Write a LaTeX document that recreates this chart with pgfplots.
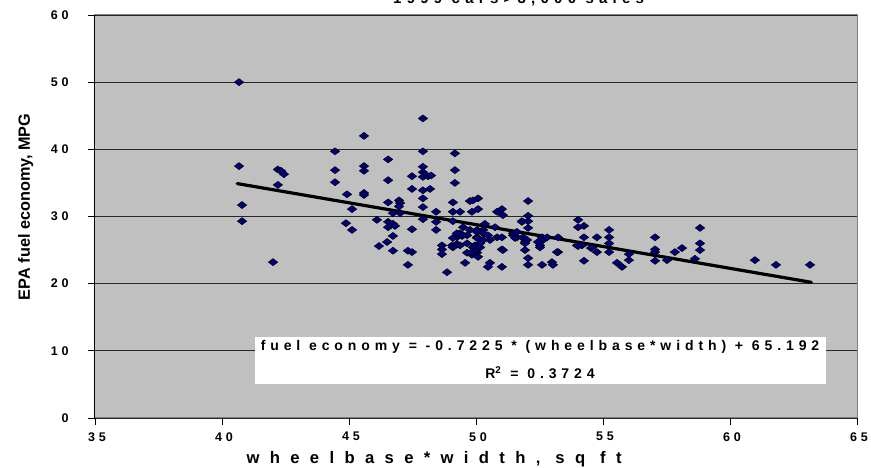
\documentclass[border=0pt]{standalone}
\usepackage{fontspec}
\usepackage{pgfplots}
\pgfplotsset{compat=1.18}
\setmainfont{Liberation Sans}
\newfontfamily\spc[LetterSpace=35]{Liberation Sans}
\newfontfamily\spct[LetterSpace=30]{Liberation Sans}
\newfontfamily\spcw[LetterSpace=62]{Liberation Sans}
\definecolor{plotgray}{RGB}{192,192,192}
\definecolor{navy}{RGB}{0,0,128}
\definecolor{bordergray}{RGB}{128,128,128}

% fuel economy (MPG) against wheelbase*width (sq ft), 1999 cars
\pgfplotstableread{
x y
40.67 50.0
40.67 37.5
40.79 31.7
40.79 29.3
42.01 23.2
42.20 37.0
42.32 36.8
42.44 36.3
42.20 34.7
44.45 39.7
44.45 36.9
44.45 35.1
44.92 33.3
45.12 31.1
44.88 29.0
45.12 28.0
45.59 42.0
45.59 37.5
45.59 36.8
45.59 33.5
45.59 33.2
47.91 44.6
47.91 39.7
49.17 39.4
46.54 38.5
46.54 35.4
47.91 37.4
47.91 36.6
47.91 35.9
48.11 36.0
48.23 36.1
47.48 36.0
49.17 36.9
49.17 35.0
47.48 34.1
47.91 33.9
48.19 34.1
47.91 32.7
46.54 32.1
46.97 32.4
47.01 32.0
46.97 31.5
47.91 31.4
49.09 32.1
49.76 32.3
48.43 30.7
49.09 30.7
49.37 30.7
46.73 30.5
47.01 30.5
47.91 29.6
46.10 29.5
46.54 29.2
46.73 28.9
46.54 28.4
46.81 28.6
48.43 29.2
48.43 28.0
47.48 28.1
49.09 29.3
49.49 28.4
49.37 27.5
49.25 26.9
49.09 26.8
49.45 27.1
49.65 27.2
46.73 27.1
46.50 26.2
46.18 25.6
49.06 25.7
49.25 25.9
48.66 25.7
48.66 25.1
48.66 24.4
46.73 24.9
47.32 24.9
47.48 24.7
49.65 24.6
47.32 22.8
48.86 21.7
50.08 32.7
49.88 32.4
52.05 32.3
50.08 31.1
49.84 30.7
50.83 30.7
51.02 31.1
51.06 30.2
52.05 30.1
51.81 29.3
52.05 29.3
52.05 28.3
50.35 28.9
50.75 28.4
50.28 28.0
50.04 28.0
51.46 27.5
51.61 26.9
51.85 26.8
51.93 26.2
52.60 26.9
52.64 26.5
52.80 26.9
52.52 25.7
53.23 26.9
50.04 26.9
50.28 26.5
50.55 26.5
50.83 26.9
49.96 25.7
50.16 25.4
51.02 25.1
51.93 25.0
50.04 24.6
49.84 24.3
53.23 24.7
52.05 23.8
50.55 23.1
50.47 22.5
51.02 22.5
52.05 22.8
52.60 22.8
52.99 23.2
53.03 22.8
54.02 29.5
54.02 28.4
54.25 28.6
54.25 26.9
54.76 26.9
55.24 28.0
55.24 26.9
55.24 26.0
54.02 25.6
54.53 25.3
54.76 24.7
55.24 24.7
54.25 23.4
55.55 23.1
55.75 22.5
56.02 24.4
56.02 23.5
57.05 26.9
57.05 25.1
57.05 24.7
57.05 23.4
57.52 23.5
57.83 24.7
58.11 25.3
58.62 23.7
58.82 28.3
58.82 26.0
58.82 25.0
60.98 23.5
61.81 22.8
63.15 22.8
49.25 27.5
49.49 27.2
49.76 28.0
50.04 27.7
50.28 27.5
50.47 27.2
50.04 26.8
49.65 26.0
49.88 25.4
50.16 26.0
49.37 25.7
49.96 24.9
50.08 24.0
49.84 24.7
49.09 25.4
51.46 27.2
51.54 26.8
51.85 26.9
52.01 26.5
51.93 26.0
52.44 26.2
52.52 25.4
51.61 27.7
51.81 29.2
51.02 26.9
51.06 25.0
49.57 23.1
53.98 25.7
54.17 25.7
54.57 25.4
53.19 24.7
}\cars

\begin{document}
\begin{tikzpicture}
\begin{axis}[
  name=ax,
  at={(0,0)}, anchor=south west,
  scale only axis,
  width=571.5pt, height=302.25pt,
  xmin=35, xmax=65, ymin=0, ymax=60,
  xtick={35,40,...,65}, ytick={0,10,...,60},
  xticklabels={35,40,45,50,55,60,65},
  yticklabels={0,10,20,30,40,50,60},
  xtick pos=bottom, ytick pos=left,
  tick align=outside,
  major tick length=5.25pt,
  tick style={black, line width=0.6pt},
  ticklabel style={font=\spct\bfseries\fontsize{9.4}{10}\selectfont},
  yticklabel style={xshift=-11pt},
  xticklabel style={yshift=-2pt, xshift=1.5pt},
  axis background/.style={fill=plotgray},
  axis line style={bordergray, line width=0.75pt},
  ymajorgrids,
  grid style={black!85, line width=0.7pt},
  xlabel={wheelbase*width, sq ft},
  xlabel style={font=\spcw\bfseries\fontsize{12.5}{13}\selectfont,
    at={(axis description cs:0.445,0)}, anchor=center, yshift=-31pt},
  ylabel={EPA fuel economy, MPG},
  ylabel style={font=\bfseries\fontsize{12.2}{13}\selectfont,
    at={(axis description cs:-0.091,0.524)}, anchor=center},
  clip=false,
]
\draw[black, line width=0.75pt] (axis cs:35,0) -- (axis cs:35,60);
\addplot[only marks, mark=diamond*, mark size=3.5pt,
  mark options={rotate=90, draw=none, fill=navy}] table {\cars};
\addplot[black, line width=2.4pt, line cap=round] coordinates {(40.6,34.9) (63.2,20.2)};
\fill[white] (axis cs:41.3,5.1) rectangle (axis cs:63.78,12.05);
\node[font=\spc\bfseries\fontsize{10.5}{11}\selectfont] at (axis cs:52.52,10.6)
  {fuel economy = -0.7225 * (wheelbase*width) + 65.192};
\node[font=\spc\bfseries\fontsize{10.5}{11}\selectfont] at (axis cs:52.52,6.7)
  {R\textsuperscript{2} = 0.3724};
\node[font=\spc\bfseries\fontsize{11.25}{12}\selectfont, anchor=base]
  at ([yshift=8.5pt]axis description cs:0.556,1) {1999 cars>3,000 sales};
\end{axis}
\pgfresetboundingbox
\useasboundingbox ([xshift=-71.25pt,yshift=-37.5pt]ax.south west)
  rectangle ([xshift=10.5pt,yshift=11.25pt]ax.north east);
\end{tikzpicture}
\end{document}
